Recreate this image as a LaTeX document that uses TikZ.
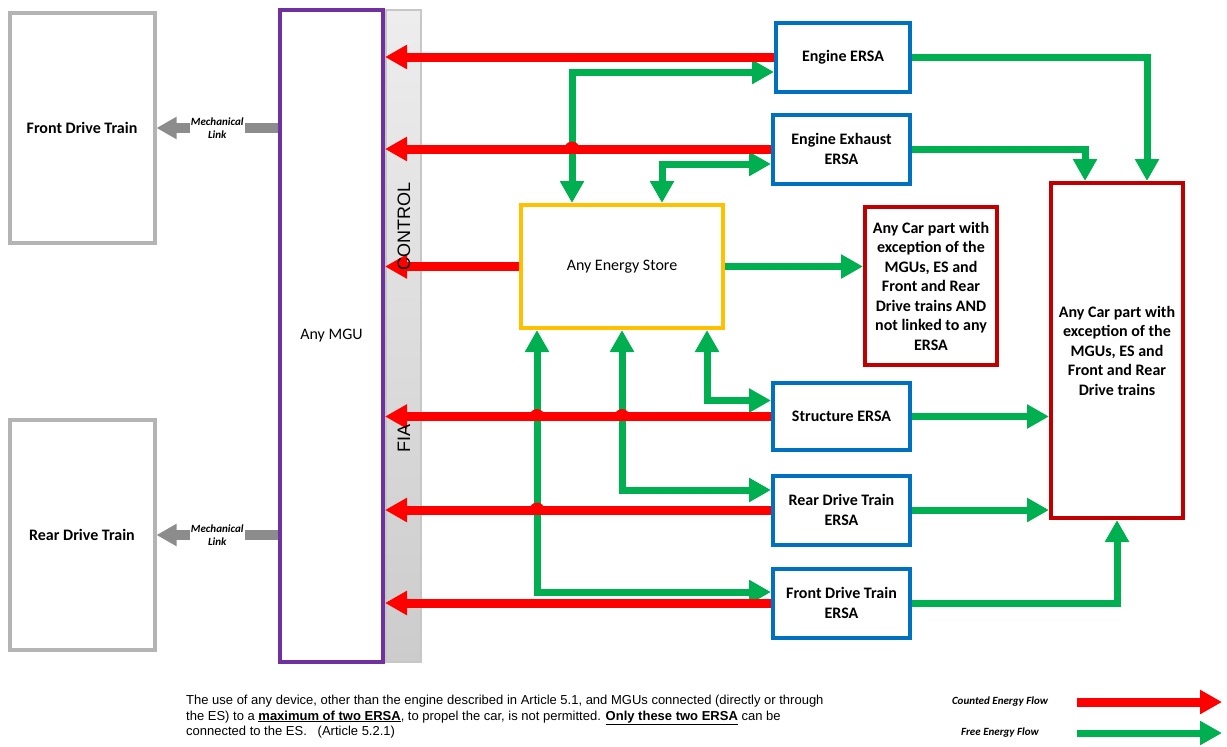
\documentclass[tikz,border=0pt]{standalone}
\usepackage{fontspec}
\setmainfont{Carlito}
\newfontfamily\arialfont{Liberation Sans}
\usetikzlibrary{positioning, arrows.meta}
\definecolor{ersablue}{HTML}{0070C0}
\definecolor{esorange}{HTML}{FFC000}
\definecolor{partred}{HTML}{C00000}
\definecolor{mgupurple}{HTML}{7030A0}
\definecolor{flowred}{HTML}{FF0000}
\definecolor{flowgreen}{HTML}{00B050}
\definecolor{traingray}{HTML}{B4B4B4}
\definecolor{linkgray}{HTML}{8C8C8C}
\newcommand{\hop}[1]{\fill[flowred] ([xshift=-7.5pt]#1) arc[start angle=180, end angle=0, radius=7.5pt];}

\begin{document}
\begin{tikzpicture}[x=1pt, y=-1pt, >={Triangle[length=22pt, width=23pt]},
    box/.style={draw, line width=4pt, fill=white, align=center, inner sep=2pt,
      font=\fontsize{16}{19.5}\selectfont\bfseries},
    trainbox/.style={box, draw=traingray, minimum width=145pt, minimum height=230pt},
    ersabox/.style={box, draw=ersablue, minimum width=137pt, minimum height=69pt},
    partbox/.style={box, draw=partred, minimum width=132pt},
    counted/.style={draw=flowred, line width=9pt},
    free/.style={draw=flowgreen, line width=7pt},
    mechlink/.style={draw=linkgray, line width=10pt, -{Triangle[length=20pt, width=21pt]}},
    smalltext/.style={font=\fontsize{11}{13.5}\selectfont\bfseries\itshape, align=center},
    bartext/.style={rotate=90, font=\arialfont\fontsize{18}{18}\selectfont}]
                \useasboundingbox (0,0) rectangle (1227,747);

                % Nodes
                \node[trainbox] (FrontTrain) at (82,128) {Front Drive Train};
                \node[trainbox] (RearTrain) at (82,535) {Rear Drive Train};

                \node[box, draw=mgupurple, minimum width=103pt, minimum height=652pt,
                  font=\fontsize{16}{19.5}\selectfont] (MGU) at (331.5,336) {Any MGU};
                \node[draw=black!22, line width=2pt, top color=black!7, bottom color=black!20,
                  minimum width=35pt, minimum height=652pt] (FIABar) at (403,336) {};

                \node[ersabox, minimum width=134pt] (EngineERSA) at (843,57) {Engine ERSA};
                \node[ersabox] (ExhaustERSA) at (841.5,149) {Engine Exhaust\\ERSA};
                \node[ersabox, minimum height=67pt] (StructERSA) at (841.5,416.5) {Structure ERSA};
                \node[ersabox] (RearERSA) at (841.5,510) {Rear Drive Train\\ERSA};
                \node[ersabox] (FrontERSA) at (841.5,603) {Front Drive Train\\ERSA};

                \node[box, draw=esorange, minimum width=202pt, minimum height=123pt,
                  font=\fontsize{16}{19.5}\selectfont] (Store) at (622,266.5) {Any Energy Store};

                \node[partbox, minimum height=158pt] (FreePart) at (931,286)
                  {Any Car part with\\exception of the\\MGUs, ES and\\Front and Rear\\Drive trains AND\\not linked to any\\ERSA};
                \node[partbox, minimum height=335pt] (CarPart) at (1117,350.5)
                  {Any Car part with\\exception of the\\MGUs, ES and\\Front and Rear\\Drive trains};

                % Mechanical links
                \draw[mechlink] (MGU.west |- FrontTrain.east) -- (FrontTrain.east)
                  node[midway, fill=white, inner xsep=1pt, inner ysep=0pt, smalltext] {Mechanical\\Link};
                \draw[mechlink] (MGU.west |- RearTrain.east) -- (RearTrain.east)
                  node[midway, fill=white, inner xsep=1pt, inner ysep=0pt, smalltext] {Mechanical\\Link};

                % Free energy flows
                \coordinate (TopLeft) at ([xshift=-50pt]Store.north);
                \coordinate (TopRight) at ([xshift=40pt]Store.north);
                \coordinate (LowLeft) at ([xshift=-85pt]Store.south);
                \coordinate (LowMid) at (Store.south);
                \coordinate (LowRight) at ([xshift=85pt]Store.south);

                \draw[free, <->] (TopLeft) |- ([yshift=-15pt]EngineERSA.west);
                \draw[free, <->] (TopRight) |- ([yshift=-15pt]ExhaustERSA.west);
                \draw[free, <->] (LowRight) |- ([yshift=16pt]StructERSA.west);
                \draw[free, <->] (LowMid) |- ([yshift=20pt]RearERSA.west);
                \draw[free, <->] (LowLeft) |- ([yshift=11pt]FrontERSA.west);
                \draw[free, ->] (Store.east) -- (Store.east -| FreePart.west);

                \draw[free, ->] (EngineERSA.east) -| ([xshift=30pt]CarPart.north);
                \draw[free, ->] (ExhaustERSA.east) -| ([xshift=-32pt]CarPart.north);
                \draw[free, ->] (StructERSA.east) -- (StructERSA.east -| CarPart.west);
                \draw[free, ->] (RearERSA.east) -- (RearERSA.east -| CarPart.west);
                \draw[free, ->] (FrontERSA.east) -| (CarPart.south);

                % Counted energy flows
                \draw[counted, ->] (EngineERSA.west) -- (EngineERSA.west -| MGU.east);
                \draw[counted, ->] (ExhaustERSA.west) -- (ExhaustERSA.west -| MGU.east);
                \draw[counted, ->] (Store.west) -- (Store.west -| MGU.east);
                \draw[counted, ->] (StructERSA.west) -- (StructERSA.west -| MGU.east);
                \draw[counted, ->] (RearERSA.west) -- (RearERSA.west -| MGU.east);
                \draw[counted, ->] (FrontERSA.west) -- (FrontERSA.west -| MGU.east);

                % Crossings
                \hop{TopLeft |- ExhaustERSA.west}
                \hop{LowLeft |- StructERSA.west}
                \hop{LowMid |- StructERSA.west}
                \hop{LowLeft |- RearERSA.west}

                % Bar labels
                \node[bartext] (Control) at (404,226) {CONTROL};
                \node[bartext] (FIA) at (404,438) {FIA};

                % Note and legend
                \node[anchor=north west, inner sep=0pt, align=left,
                  font=\arialfont\fontsize{13}{15.5}\selectfont] (Note) at (186,695)
                  {The use of any device, other than the engine described in Article 5.1, and MGUs connected (directly or through\\
                   the ES) to a \underline{\textbf{maximum of two ERSA}}, to propel the car, is not permitted. \underline{\textbf{Only these two ERSA}} can be\\
                   connected to the ES. \ \ (Article 5.2.1)};

                \node[smalltext] (CountedLabel) at (1000,702) {Counted Energy Flow};
                \node[smalltext] (FreeLabel) at (1000,733) {Free Energy Flow};
                \coordinate (CountedStart) at (1077,702);
                \coordinate (CountedEnd) at (1222,702);
                \coordinate (FreeStart) at (1077,733);
                \coordinate (FreeEnd) at (1222,733);
                \draw[counted, ->] (CountedStart) -- (CountedEnd);
                \draw[free, ->] (FreeStart) -- (FreeEnd);
              \end{tikzpicture}
\end{document}
